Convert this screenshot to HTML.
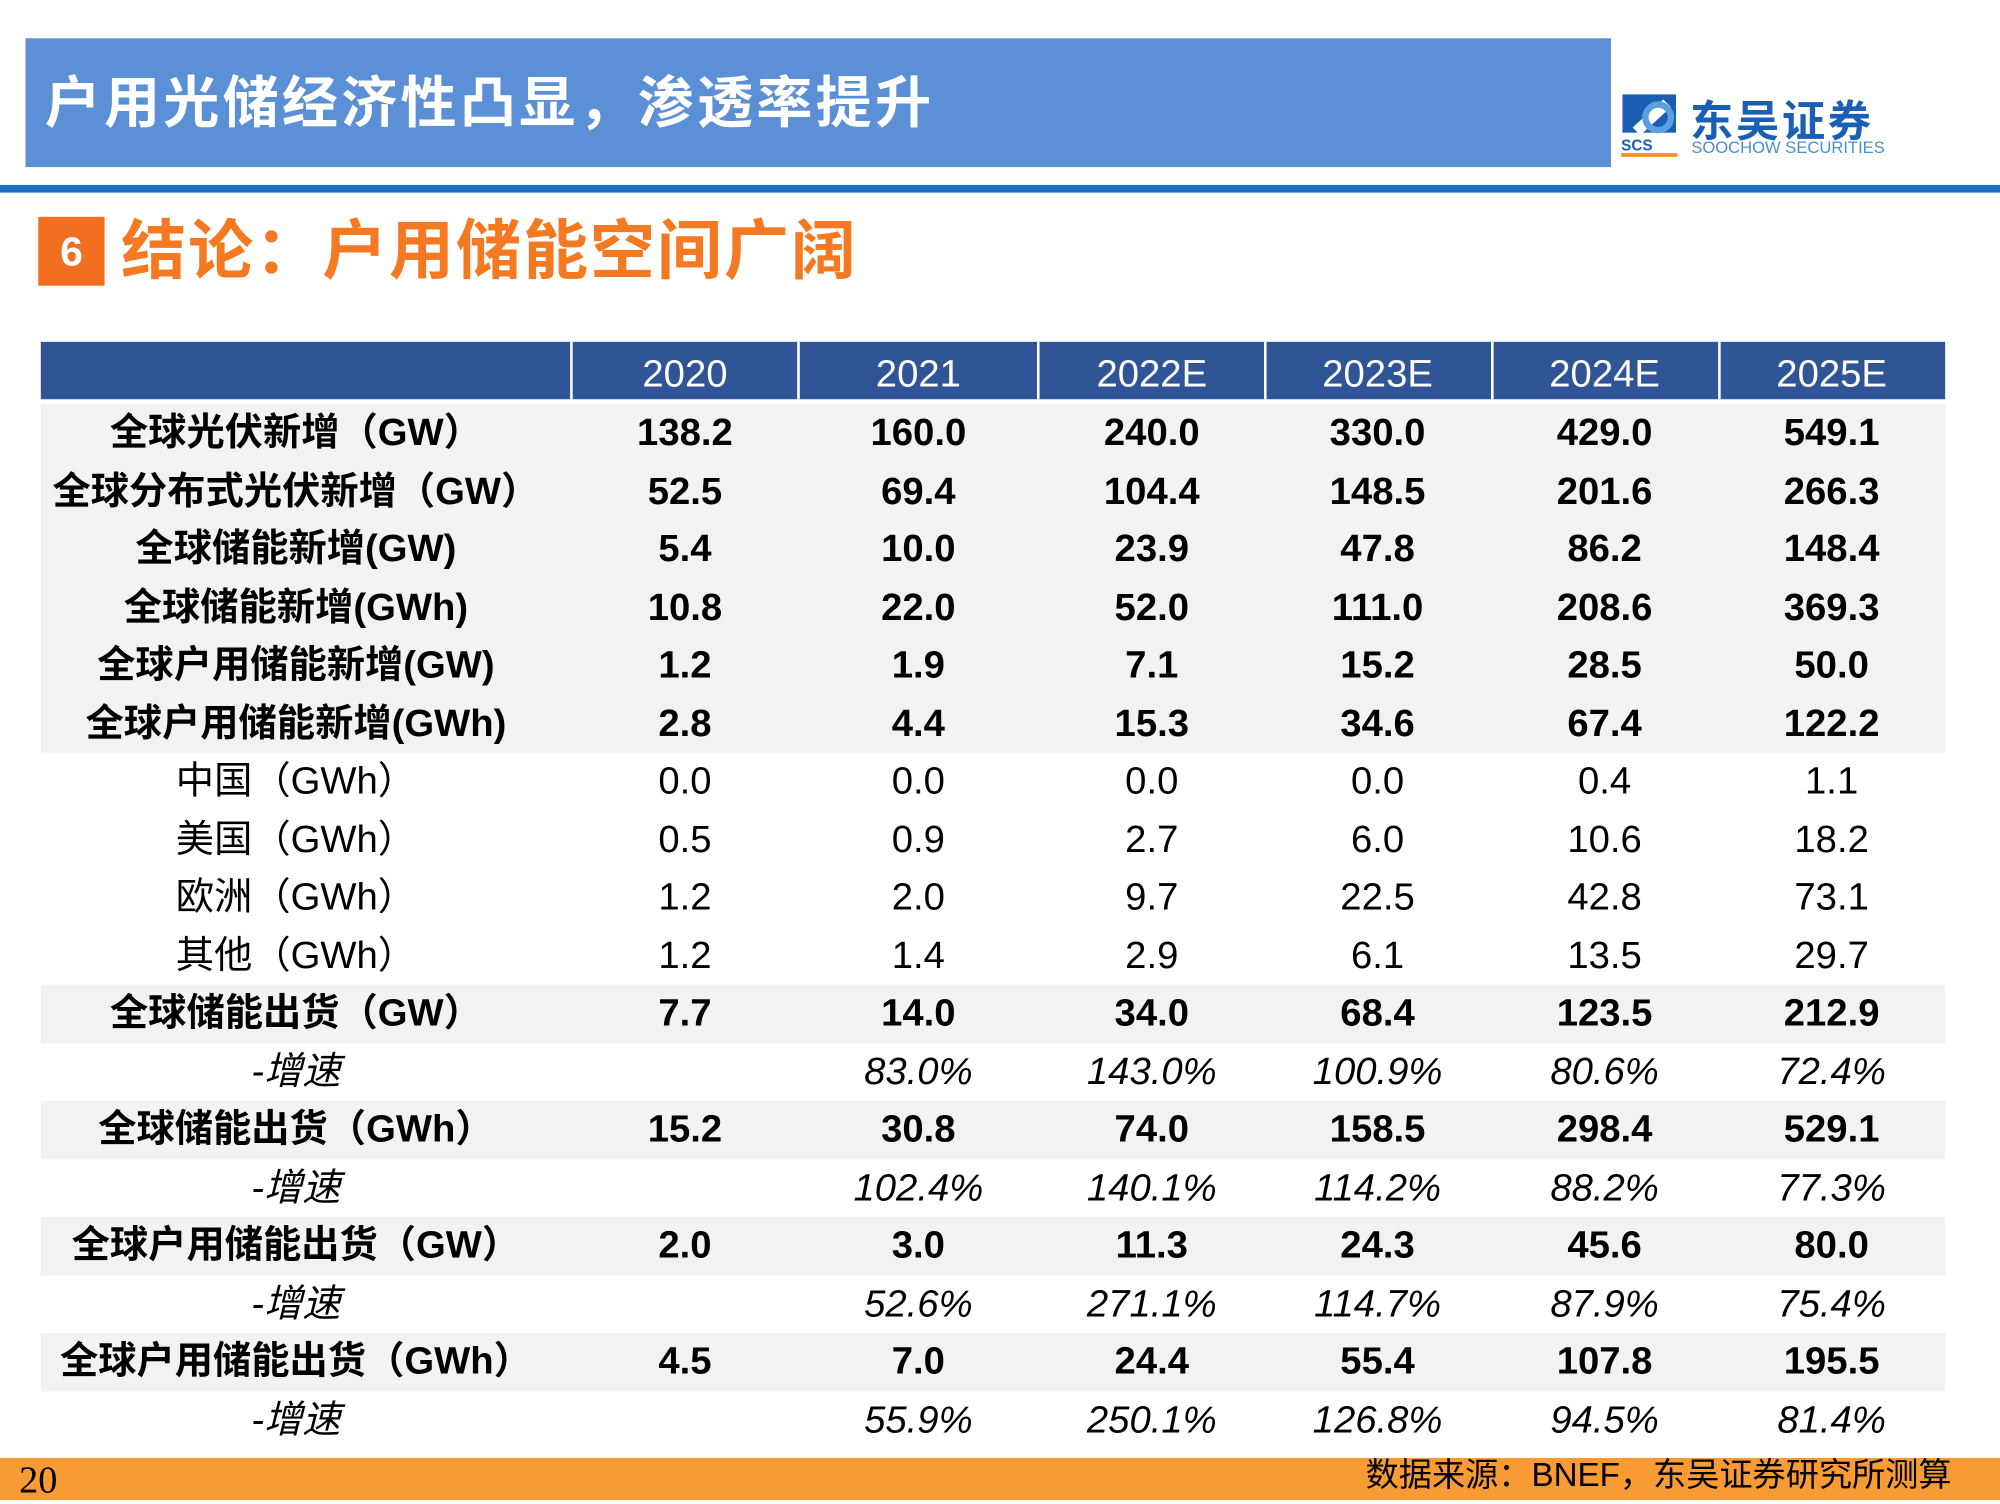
<!DOCTYPE html>
<html><head><meta charset="utf-8">
<style>
html,body{margin:0;padding:0;background:#fff;}
body{width:2000px;height:1500px;overflow:hidden;position:relative;}
#wrap{position:absolute;left:0;top:0;width:1568px;height:1176px;transform:scale(1.27551);transform-origin:0 0;font-family:"Liberation Sans","Noto Sans CJK SC",sans-serif;}
.abs{position:absolute;}
.cell{position:absolute;text-align:center;font-size:30px;line-height:46px;color:#000;white-space:nowrap;}
.b{font-weight:bold;}
.i{font-style:italic;}
</style></head><body>
<div id="wrap">
  <div class="abs" style="left:20px;top:30px;width:1243px;height:101px;background:#5b8fd6;"></div>
  <div class="abs" style="left:35px;top:52px;font-size:44px;letter-spacing:2.5px;font-weight:bold;color:#fff;line-height:60px;">户用光储经济性凸显，渗透率提升</div>
  <div class="abs" style="left:1270px;top:72px;width:220px;height:55px;">
    <svg width="52" height="52" style="position:absolute;left:0;top:0">
      <rect x="2" y="2" width="42" height="30" fill="#1a5fb4"/>
      <path d="M10 28 L34 6 L40 12 L16 34 Z" fill="#fff"/>
      <circle cx="30" cy="20" r="10" fill="none" stroke="#5aa0e0" stroke-width="5"/>
      <text x="1" y="46" font-size="12" font-weight="bold" fill="#1a5fb4" font-family="Liberation Sans">SCS</text>
      <rect x="1" y="48" width="44" height="3" fill="#f7941d"/>
    </svg>
    <div class="abs" style="left:55px;top:-4px;font-size:34px;font-weight:bold;color:#1a5fb4;letter-spacing:2px;">东吴证券</div>
    <div class="abs" style="left:56px;top:36px;font-size:13px;color:#4a8ed0;">SOOCHOW SECURITIES</div>
  </div>
  <div class="abs" style="left:0;top:145px;width:1568px;height:6px;background:#1a6fc0;"></div>
  <div class="abs" style="left:30px;top:170px;width:52px;height:54px;background:#f26f21;color:#fff;font-size:32px;font-weight:bold;text-align:center;line-height:54px;">6</div>
  <div class="abs" style="left:95px;top:164px;font-size:51px;letter-spacing:1.5px;font-weight:bold;color:#f47920;line-height:66px;">结论：户用储能空间广阔</div>

  <div class="abs" style="left:32px;top:268px;width:1493px;height:45px;background:#2f5597;"></div>
  <div id="tbl"></div>

  <div class="abs" style="left:0;top:1143px;width:1568px;height:33px;background:#f99b35;"></div>
  <div class="abs" style="left:15px;top:1143px;font-family:'Liberation Serif',serif;font-size:30px;line-height:36px;color:#000;">20</div>
  <div class="abs" style="right:38px;top:1138px;font-size:26px;line-height:36px;color:#000;">数据来源：BNEF，东吴证券研究所测算</div>
</div>
<script>
const years = ["2020","2021","2022E","2023E","2024E","2025E"];
const rowLabels = ["全球光伏新增（GW）","全球分布式光伏新增（GW）","全球储能新增(GW)","全球储能新增(GWh)","全球户用储能新增(GW)","全球户用储能新增(GWh)","中国（GWh）","美国（GWh）","欧洲（GWh）","其他（GWh）","全球储能出货（GW）","-增速","全球储能出货（GWh）","-增速","全球户用储能出货（GW）","-增速","全球户用储能出货（GWh）","-增速"];
const rowValues = [
["138.2","160.0","240.0","330.0","429.0","549.1"],
["52.5","69.4","104.4","148.5","201.6","266.3"],
["5.4","10.0","23.9","47.8","86.2","148.4"],
["10.8","22.0","52.0","111.0","208.6","369.3"],
["1.2","1.9","7.1","15.2","28.5","50.0"],
["2.8","4.4","15.3","34.6","67.4","122.2"],
["0.0","0.0","0.0","0.0","0.4","1.1"],
["0.5","0.9","2.7","6.0","10.6","18.2"],
["1.2","2.0","9.7","22.5","42.8","73.1"],
["1.2","1.4","2.9","6.1","13.5","29.7"],
["7.7","14.0","34.0","68.4","123.5","212.9"],
["","83.0%","143.0%","100.9%","80.6%","72.4%"],
["15.2","30.8","74.0","158.5","298.4","529.1"],
["","102.4%","140.1%","114.2%","88.2%","77.3%"],
["2.0","3.0","11.3","24.3","45.6","80.0"],
["","52.6%","271.1%","114.7%","87.9%","75.4%"],
["4.5","7.0","24.4","55.4","107.8","195.5"],
["","55.9%","250.1%","126.8%","94.5%","81.4%"]
];
const rowStyle = ["b","b","b","b","b","b","n","n","n","n","b","i","b","i","b","i","b","i"];
const shaded = [1,1,1,1,1,1,0,0,0,0,1,0,1,0,1,0,1,0];

const colCenters=[537,720,903,1080,1258,1436];
const seps=[447,625,813,991,1169,1347];
const tbl=document.getElementById('tbl');
function mk(cls,css,txt){const d=document.createElement('div');d.className=cls;d.style.cssText=css;if(txt!==undefined)d.textContent=txt;tbl.appendChild(d);return d;}
seps.forEach((x,i)=>{
  const d=mk('abs',`left:${x}px;top:268px;width:2px;height:45px;background:#fff;`);
  
  
});
years.forEach((y,i)=>{
  const d=mk('cell',`left:${colCenters[i]-80}px;width:160px;top:271px;color:#fff;font-size:30px;`,y);
  
  
});
const rowTop=317,rowH=45.5;
rowLabels.forEach((lab,r)=>{
  const top=rowTop+r*rowH;
  if(shaded[r]){
    const bg=mk('abs',`left:32px;top:${top}px;width:1493px;height:${rowH}px;background:#f2f2f2;`);
    
    
  }
  const st=rowStyle[r]==='b'?'b':(rowStyle[r]==='i'?'i':'');
  const l=mk('cell '+st,`left:32px;width:400px;top:${top}px;`,lab);
  
  
  rowValues[r].forEach((v,c)=>{
    const d=mk('cell '+st,`left:${colCenters[c]-85}px;width:170px;top:${top}px;`,v);
    
    
  });
});
</script>
</body></html>
